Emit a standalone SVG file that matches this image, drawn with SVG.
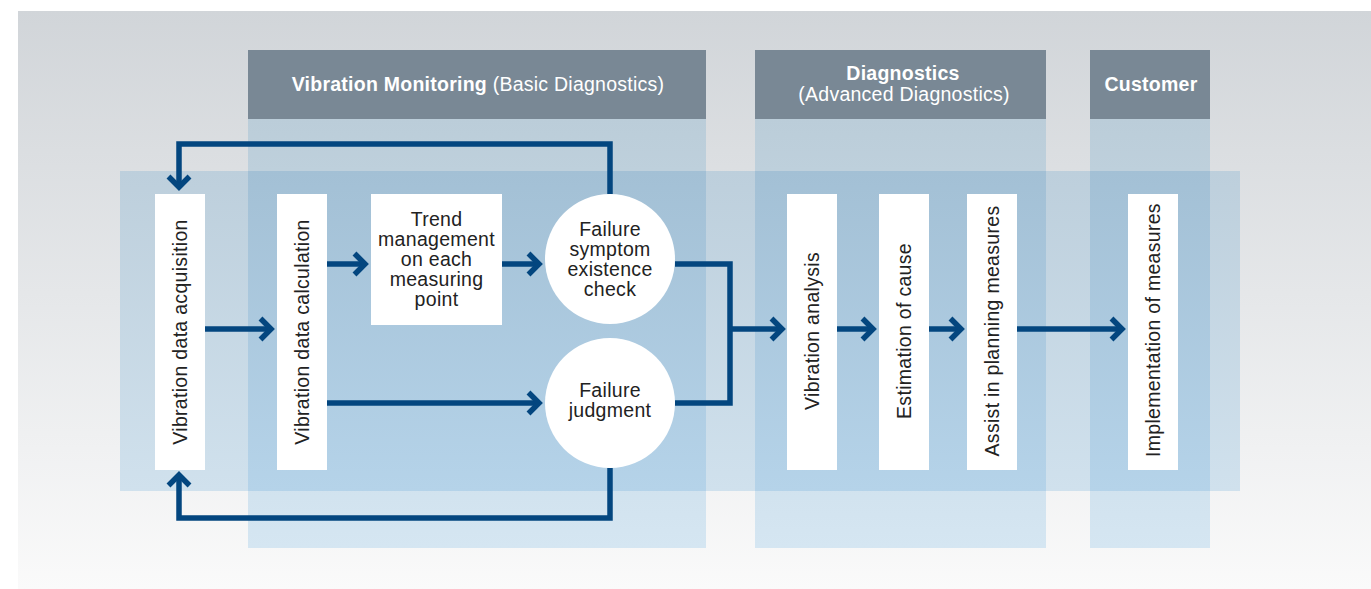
<svg xmlns="http://www.w3.org/2000/svg" width="1371" height="589" viewBox="0 0 1371 589">
<defs>
<linearGradient id="bg" x1="0" y1="11" x2="0" y2="589" gradientUnits="userSpaceOnUse"><stop offset="0" stop-color="#d1d5d9"/><stop offset="1" stop-color="#fafafa"/></linearGradient>
<linearGradient id="col" x1="0" y1="119" x2="0" y2="548" gradientUnits="userSpaceOnUse"><stop offset="0" stop-color="#bbcdd9"/><stop offset="1" stop-color="#d5e6f2"/></linearGradient>
<linearGradient id="band" x1="0" y1="171" x2="0" y2="491" gradientUnits="userSpaceOnUse"><stop offset="0" stop-color="#bdcfdc"/><stop offset="1" stop-color="#d0e1ed"/></linearGradient>
<linearGradient id="ovl" x1="0" y1="171" x2="0" y2="491" gradientUnits="userSpaceOnUse"><stop offset="0" stop-color="#a3c0d5"/><stop offset="1" stop-color="#b5d3e9"/></linearGradient>
<marker id="ah" markerUnits="userSpaceOnUse" viewBox="-16 -16 24 32" markerWidth="24" markerHeight="32" refX="0" refY="0" orient="auto">
<path d="M-10.5,-10.5 L0,0 L-10.5,10.5" fill="none" stroke="#03467f" stroke-width="5.5" stroke-linejoin="miter" stroke-miterlimit="10"/>
</marker>
<style>
.hdr{fill:#798895}
.box{fill:#ffffff}
.t{font-family:"Liberation Sans",Arial,sans-serif;font-size:19.5px;fill:#222222;text-anchor:middle;letter-spacing:0.3px}
.h{font-family:"Liberation Sans",Arial,sans-serif;font-size:19.5px;fill:#ffffff;text-anchor:middle;letter-spacing:0.25px}
.b{font-weight:bold}
.c{fill:none;stroke:#03467f;stroke-width:5.5;stroke-linejoin:miter}
.a{marker-end:url(#ah)}
</style>
</defs>
<g id="background">
<rect x="18" y="11" width="1353" height="578" fill="url(#bg)"/>
<rect x="248" y="119" width="458" height="429" fill="url(#col)"/>
<rect x="755" y="119" width="291" height="429" fill="url(#col)"/>
<rect x="1090" y="119" width="120" height="429" fill="url(#col)"/>
<rect x="120" y="171" width="1120" height="320" fill="url(#band)"/>
<rect x="248" y="171" width="458" height="320" fill="url(#ovl)"/>
<rect x="755" y="171" width="291" height="320" fill="url(#ovl)"/>
<rect x="1090" y="171" width="120" height="320" fill="url(#ovl)"/>
</g>
<g id="header-monitoring">
<rect class="hdr" x="248" y="50" width="458" height="69"/>
<text class="h" x="478" y="91"><tspan class="b">Vibration Monitoring</tspan> (Basic Diagnostics)</text>
</g>
<g id="header-diagnostics">
<rect class="hdr" x="755" y="50" width="291" height="69"/>
<text class="h b" x="903" y="80">Diagnostics</text>
<text class="h" x="904" y="101">(Advanced Diagnostics)</text>
</g>
<g id="header-customer">
<rect class="hdr" x="1090" y="50" width="120" height="69"/>
<text class="h b" x="1151" y="91">Customer</text>
</g>
<g id="connectors">
<path class="c a" d="M610,194 V144 H179 V187"/>
<path class="c a" d="M610,468 V518 H179 V475"/>
<path class="c a" d="M205,329 H271"/>
<path class="c a" d="M327,264 H365"/>
<path class="c a" d="M502,264 H539"/>
<path class="c a" d="M327,403 H539"/>
<path class="c" d="M675,264 H730 V403 H675"/>
<path class="c a" d="M730,329 H782"/>
<path class="c a" d="M837,329 H873"/>
<path class="c a" d="M929,329 H961"/>
<path class="c a" d="M1017,329 H1122"/>
</g>
<g id="node-acquisition">
<rect class="box" x="155" y="194" width="50" height="276"/>
<text class="t" transform="translate(180,332) rotate(-90)" x="0" y="7">Vibration data acquisition</text>
</g>
<g id="node-calculation">
<rect class="box" x="277" y="194" width="50" height="276"/>
<text class="t" transform="translate(302,332) rotate(-90)" x="0" y="7">Vibration data calculation</text>
</g>
<g id="node-trend">
<rect class="box" x="371" y="194" width="131" height="131"/>
<text class="t" x="436.5" y="225.5">Trend<tspan x="436.5" dy="20">management</tspan><tspan x="436.5" dy="20">on each</tspan><tspan x="436.5" dy="20">measuring</tspan><tspan x="436.5" dy="20">point</tspan></text>
</g>
<g id="node-symptom">
<circle class="box" cx="610" cy="259" r="65"/>
<text class="t" x="610" y="236">Failure<tspan x="610" dy="20">symptom</tspan><tspan x="610" dy="20">existence</tspan><tspan x="610" dy="20">check</tspan></text>
</g>
<g id="node-judgment">
<circle class="box" cx="610" cy="403" r="65"/>
<text class="t" x="610" y="397">Failure<tspan x="610" dy="20">judgment</tspan></text>
</g>
<g id="node-analysis">
<rect class="box" x="787" y="194" width="50" height="276"/>
<text class="t" transform="translate(812,331) rotate(-90)" x="0" y="7">Vibration analysis</text>
</g>
<g id="node-cause">
<rect class="box" x="879" y="194" width="50" height="276"/>
<text class="t" transform="translate(904,331) rotate(-90)" x="0" y="7">Estimation of cause</text>
</g>
<g id="node-assist">
<rect class="box" x="967" y="194" width="50" height="276"/>
<text class="t" transform="translate(992,331) rotate(-90)" x="0" y="7">Assist in planning measures</text>
</g>
<g id="node-implementation">
<rect class="box" x="1128" y="194" width="50" height="276"/>
<text class="t" transform="translate(1153,330) rotate(-90)" x="0" y="7">Implementation of measures</text>
</g>
</svg>
